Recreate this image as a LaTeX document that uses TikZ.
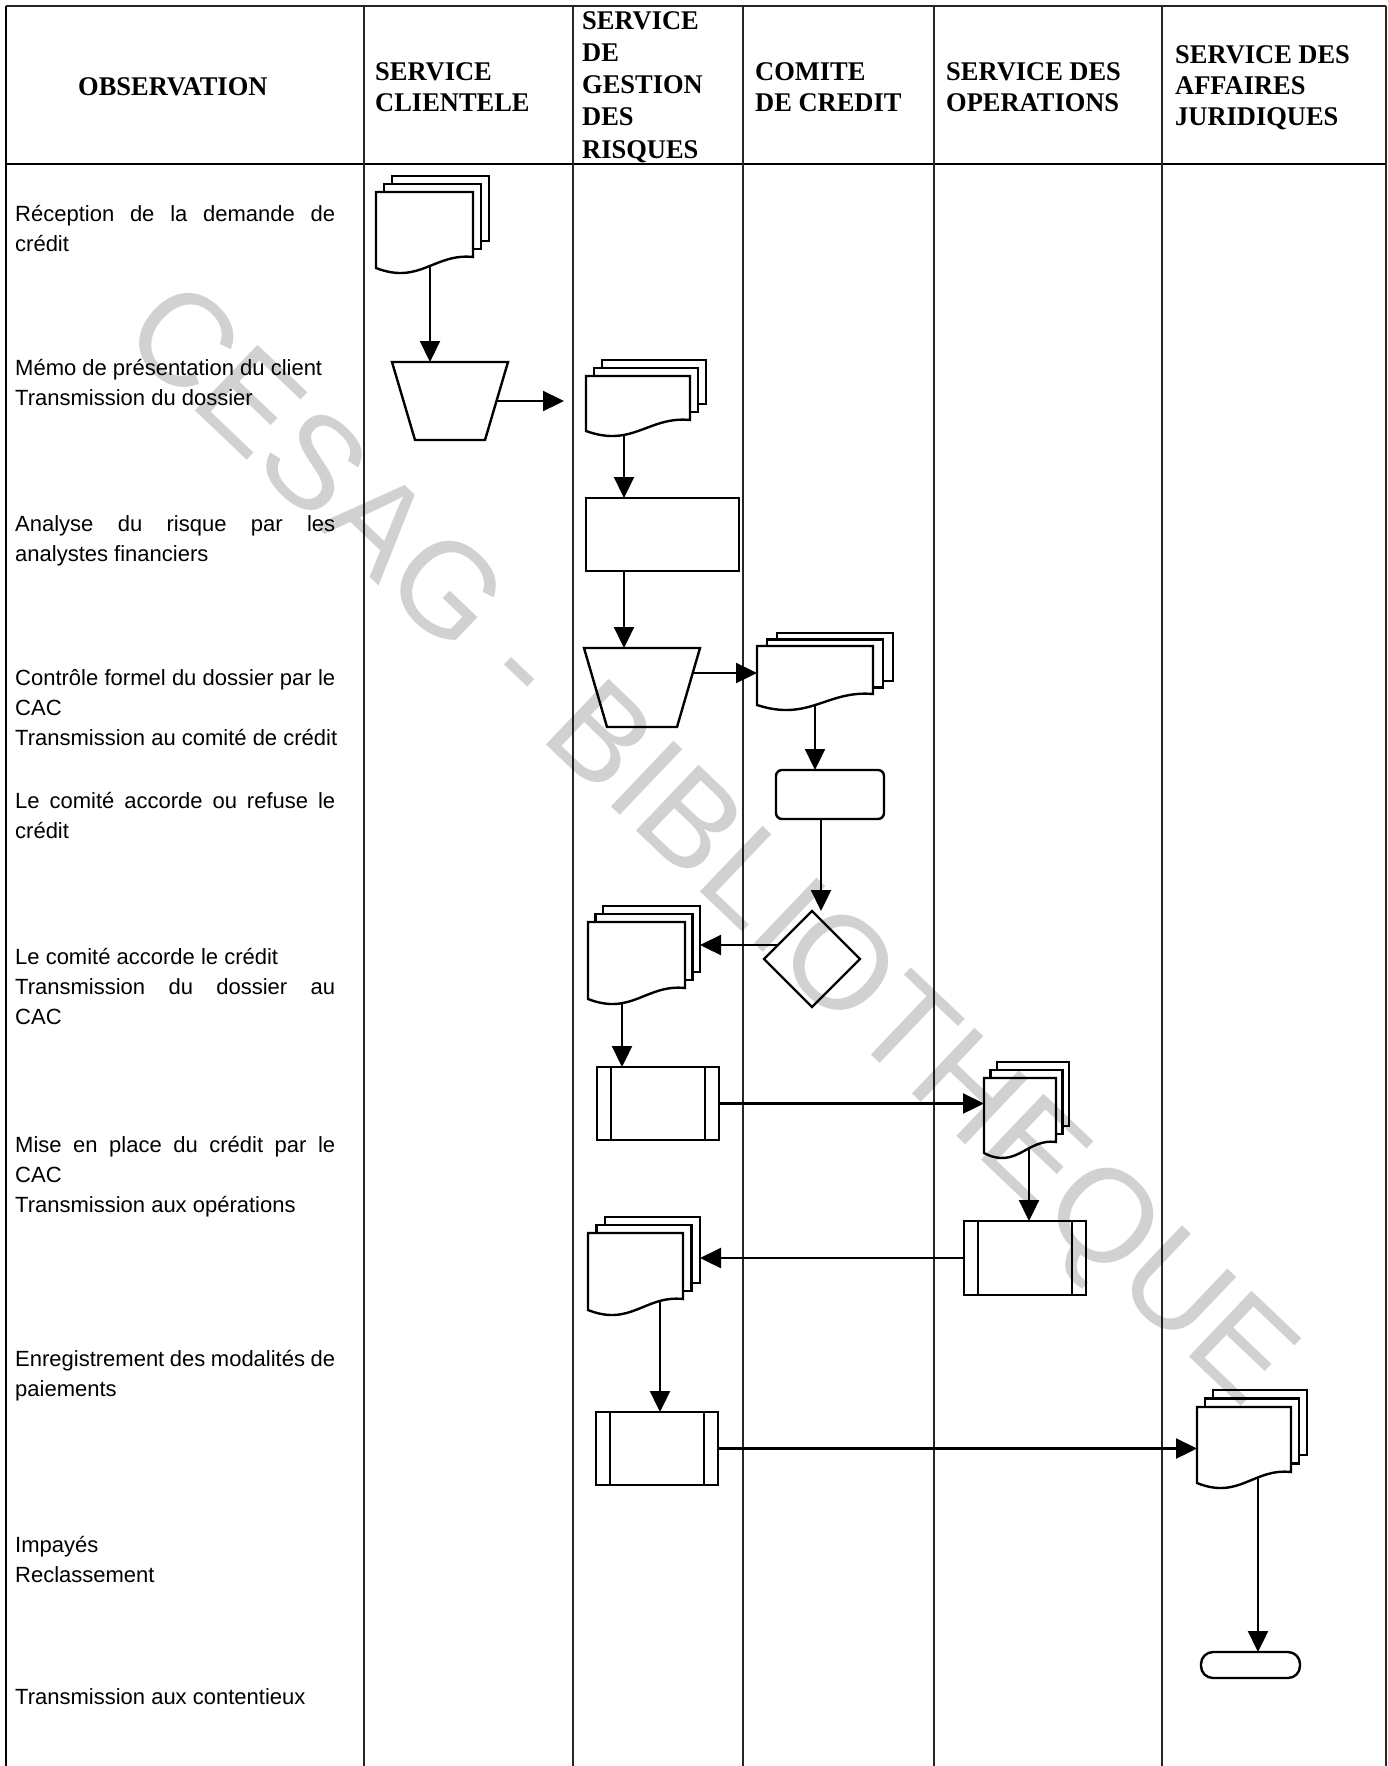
\documentclass[tikz,border=0pt]{standalone}
\usepackage{fontspec}
\setmainfont{Liberation Serif}
\newfontfamily\obsfont{Liberation Sans}
\newfontfamily\hdrfont{Liberation Serif}[FakeStretch=0.98]
\newfontfamily\wmfont{Liberation Sans}
\usetikzlibrary{arrows.meta,shapes.geometric,calc}

\tikzset{
  tblline/.style={line width=1.3pt, draw=black!85},
  shp/.style={draw, line width=2.4pt, inner sep=0pt, outer sep=0pt, fill=white},
  arr/.style={line width=2.3pt, -{Triangle[length=21pt,width=20pt]}},
  obs/.style={anchor=base west, inner sep=0pt, font=\obsfont\fontsize{22}{30}\selectfont},
  hdr/.style={anchor=base west, inner sep=0pt, font=\hdrfont\bfseries\fontsize{27}{31}\selectfont},
  ghost/.style={inner sep=0pt, outer sep=0pt, anchor=north west},
}

% multi-document: name, x0, y0, w, h, dx, dy
\newcommand{\mdoc}[7]{%
  \draw[shp] (#2+2*#6,#3-2*#7) rectangle (#2+#4+2*#6,#3+#5-2*#7);
  \draw[shp] (#2+#6,#3-#7) rectangle (#2+#4+#6,#3+#5-#7);
  \draw[shp] (#2,#3) -- (#2+#4,#3) -- (#2+#4,#3+#5)
     .. controls (#2+0.6*#4,#3+#5-4) and (#2+0.45*#4,#3+#5+28) .. (#2,#3+#5+11) -- cycle;
  \node[ghost, minimum width=#4, minimum height=#5+16] (#1) at (#2,#3) {};
  \node[ghost, minimum width=#4+2*#6, minimum height=#5+16+2*#7] (#1s) at (#2,#3-2*#7) {};
}
% predefined process: name, cx, cy, w, h
\newcommand{\ppbox}[5]{%
  \node[shp, minimum width=#4, minimum height=#5] (#1) at (#2,#3) {};
  \draw[line width=2.2pt] ([xshift=14]#1.north west) -- ([xshift=14]#1.south west);
  \draw[line width=2.2pt] ([xshift=-14]#1.north east) -- ([xshift=-14]#1.south east);
}
% manual operation (trapezoid): name, cx, cy, wtop, wbottom, h
\newcommand{\trap}[6]{%
  \draw[shp] (#2-#4/2,#3-#6/2) -- (#2+#4/2,#3-#6/2) -- (#2+#5/2,#3+#6/2) -- (#2-#5/2,#3+#6/2) -- cycle;
  \node[inner sep=0pt, outer sep=0pt, minimum width=#4, minimum height=#6] (#1) at (#2,#3) {};
}

\begin{document}
\begin{tikzpicture}[x=1pt,y=-1pt]
\useasboundingbox (0,0) rectangle (1388,1766);

% table
\draw[tblline] (6,6) -- (1386,6);
\draw[line width=1.8pt] (6,6) -- (6,1766);
\draw[tblline] (1386,6) -- (1386,1766);
\draw[line width=2.4pt] (6,164) -- (1386,164);
\foreach \x in {364,573,743,934,1162} \draw[tblline] (\x,6) -- (\x,1766);

% headers
\node[hdr] (h1) at (78,96) {OBSERVATION};
\node[hdr] (h2a) at (375,81) {SERVICE};
\node[hdr] (h2b) at (375,112) {CLIENTELE};
\node[hdr] (h3a) at (582,30) {SERVICE};
\node[hdr] (h3b) at (582,62) {DE};
\node[hdr] (h3c) at (582,94) {GESTION};
\node[hdr] (h3d) at (582,126) {DES};
\node[hdr] (h3e) at (582,158) {RISQUES};
\node[hdr] (h4a) at (755,81) {COMITE};
\node[hdr] (h4b) at (755,112) {DE CREDIT};
\node[hdr] (h5a) at (946,81) {SERVICE DES};
\node[hdr] (h5b) at (946,112) {OPERATIONS};
\node[hdr] (h6a) at (1175,64) {SERVICE DES};
\node[hdr] (h6b) at (1175,95) {AFFAIRES};
\node[hdr] (h6c) at (1175,126) {JURIDIQUES};

% observation column
\node[obs] (o1a) at (15,221) {\makebox[320pt][s]{Réception de la demande de}};
\node[obs] (o1b) at (15,251) {crédit};
\node[obs] (o2a) at (15,375) {Mémo de présentation du client};
\node[obs] (o2b) at (15,405) {Transmission du dossier};
\node[obs] (o3a) at (15,531) {\makebox[320pt][s]{Analyse du risque par les}};
\node[obs] (o3b) at (15,561) {analystes financiers};
\node[obs] (o4a) at (15,685) {\makebox[320pt][s]{Contrôle formel du dossier par le}};
\node[obs] (o4b) at (15,715) {CAC};
\node[obs] (o4c) at (15,745) {Transmission au comité de crédit};
\node[obs] (o5a) at (15,808) {\makebox[320pt][s]{Le comité accorde ou refuse le}};
\node[obs] (o5b) at (15,838) {crédit};
\node[obs] (o6a) at (15,964) {Le comité accorde le crédit};
\node[obs] (o6b) at (15,994) {\makebox[320pt][s]{Transmission du dossier au}};
\node[obs] (o6c) at (15,1024) {CAC};
\node[obs] (o7a) at (15,1152) {\makebox[320pt][s]{Mise en place du crédit par le}};
\node[obs] (o7b) at (15,1182) {CAC};
\node[obs] (o7c) at (15,1212) {Transmission aux opérations};
\node[obs] (o8a) at (15,1366) {\makebox[320pt][s]{Enregistrement des modalités de}};
\node[obs] (o8b) at (15,1396) {paiements};
\node[obs] (o9a) at (15,1552) {Impayés};
\node[obs] (o9b) at (15,1582) {Reclassement};
\node[obs] (o10) at (15,1704) {Transmission aux contentieux};

% shapes
\mdoc{d1}{376}{192}{97}{65}{8}{8}
\trap{t1}{450}{401}{116}{70}{78}
\mdoc{d2}{586}{376}{104}{44}{8}{8}
\node[shp, minimum width=153, minimum height=73] (r1) at (662.5,534.5) {};
\trap{t2}{642}{687.5}{116}{70}{79}
\mdoc{d3}{757}{646}{116}{48}{10}{6.5}
\node[shp, rounded corners=6pt, minimum width=108, minimum height=49] (rr) at (830,794.5) {};
\node[shp, diamond, minimum width=96, minimum height=96] (dia) at (812,959) {};
\mdoc{d4}{588}{922}{97}{66}{7.5}{8}
\ppbox{b1}{658}{1103.5}{122}{73}
\mdoc{d5}{984}{1078}{72}{64}{6.5}{8}
\ppbox{b2}{1025}{1258}{122}{74}
\mdoc{d6}{588}{1233}{95}{66}{8.5}{8}
\ppbox{b3}{657}{1448.5}{122}{73}
\mdoc{d7}{1197}{1407}{94}{65}{8}{8.5}
\node[shp, rounded corners=12pt, minimum width=99, minimum height=26] (term) at (1250.5,1665) {};

% connectors
\coordinate (a1) at ($(d1.south)+(5.5,-7)$);
\draw[arr] (a1) -- (a1 |- t1.north);
\coordinate (a2) at ($(t1.east)+(-11.5,0)$);
\draw[arr, shorten >=22pt] (a2) -- (a2 -| d2.west);
\coordinate (a3) at ($(d2.south)+(-14,-1)$);
\draw[arr] (a3) -- (a3 |- r1.north);
\coordinate (a4) at ($(r1.south)+(-38.5,0)$);
\draw[arr] (a4) -- (a4 |- t2.north);
\coordinate (a5) at ($(t2.east)+(-7.3,-14.5)$);
\draw[arr] (a5) -- (a5 -| d3.west);
\coordinate (a6) at ($(d3.south)+(0,-5)$);
\draw[arr] (a6) -- (a6 |- rr.north);
\coordinate (a7) at ($(rr.south)+(-9,0)$);
\draw[arr] (a7) -- (a7 |- dia.north);
\coordinate (a8) at ($(dia.west)+(14,-14)$);
\draw[arr] (a8) -- (a8 -| d4s.east);
\coordinate (a9) at ($(d4.south)+(-14.5,-1.5)$);
\draw[arr] (a9) -- (a9 |- b1.north);
\draw[arr] (b1.east) -- (b1.east -| d5.west);
\coordinate (a11) at ($(d5.south)+(9,-9.6)$);
\draw[arr] (a11) -- (a11 |- b2.north);
\draw[arr] (b2.west) -- (b2.west -| d6s.east);
\coordinate (a13) at ($(d6.south)+(24.5,-14)$);
\draw[arr] (a13) -- (a13 |- b3.north);
\draw[arr] (b3.east) -- (b3.east -| d7.west);
\coordinate (a15) at ($(d7.south)+(14,-10.6)$);
\draw[arr] (a15) -- (a15 |- term.north);

% watermark
\node[font=\wmfont\fontsize{132}{132}\selectfont, text=black, text opacity=0.18,
      rotate=-43.6, inner sep=0pt] (wm) at (705,850) {CESAG - BIBLIOTHEQUE};
\end{tikzpicture}
\end{document}
